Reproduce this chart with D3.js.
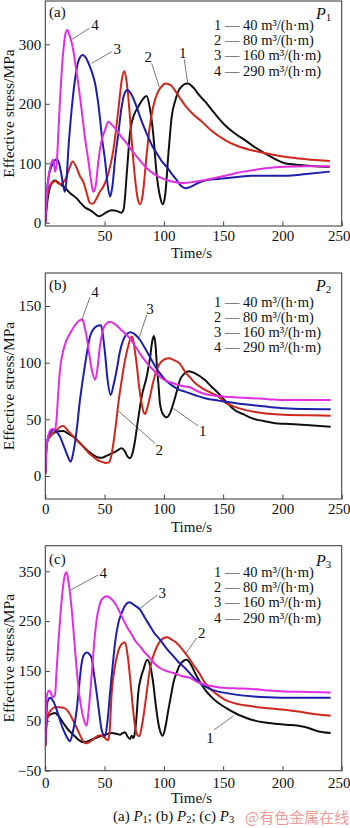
<!DOCTYPE html>
<html><head><meta charset="utf-8">
<script src="https://cdn.jsdelivr.net/npm/d3@7"></script>
<style>
html,body{margin:0;padding:0;background:#fff;}
svg{display:block;font-family:"Liberation Serif","Times New Roman",serif;}
</style></head>
<body>
<svg id="chart" width="350" height="828"></svg>
<script>
// ---------- DATA ----------
const seriesLabels = ["1 — 40 m³/(h·m)", "2 — 80 m³/(h·m)", "3 — 160 m³/(h·m)", "4 — 290 m³/(h·m)"];
const seriesColors = ["#111111", "#d0261c", "#1e1eac", "#e02ee0"];
const xTicks = [0, 50, 100, 150, 200, 250];

// Panel (a) P1  [time s, effective stress MPa]
const p1s1 = [[0,0],[2,40],[5,65],[8,71],[12,66],[16,60],[20.8,50],[26.5,41],[30,33],[34,25],[38,21],[42,15],[45,11],[48,13],[51,17],[56,21],[60,20],[64,17],[66,22],[69,90],[71.4,150],[75,182],[78.4,195],[82,207],[85.5,213],[88,195],[91,150],[94,80],[97,42],[99,31],[101,45],[104,120],[106.6,178],[110,208],[113.6,226],[120,234],[125,227],[130,214],[134.7,204],[142,186],[151.6,164],[160,150],[168.4,139],[176,128],[185,117],[194,107],[202,100],[215,97],[228,95],[240,94]];
const p1s2 = [[0,0],[1,35],[2.5,55],[5,66],[8.2,70],[12.4,65],[16.6,72],[20.8,94],[23,103],[26.5,92],[29.3,78],[32,69],[34.9,50],[37.7,33],[40,32],[43,40],[46,52],[49,61],[53.2,83],[57.4,122],[61.6,190],[64.5,240],[66.7,255],[68.5,238],[70.5,200],[73,135],[75.5,78],[78,40],[80,31],[82,45],[85.5,115],[88,160],[91,195],[95,220],[98,229],[101.5,234],[106,231],[110.8,218],[114.5,207],[118,197],[122,188],[126,180],[131,172],[140,155],[151.6,139],[162,129],[174,122],[188,116],[202,111],[220,107],[240,104]];
const p1s3 = [[0,0],[1.5,55],[3,80],[6,98],[9.6,107],[11.5,101],[13.5,82],[15.2,62],[16.6,52],[18,75],[19.4,122],[22.2,190],[25,240],[27.8,271],[31.5,282],[34,278],[37.7,262],[40,249],[42,234],[44,210],[46,178],[48,140],[50.4,105],[52.5,65],[54.6,44],[56.5,60],[59,110],[61.6,150],[64,190],[66.5,215],[69.2,223],[72,218],[77,195],[81,172],[85.5,150],[90,130],[94,117],[98,104],[102.4,94],[106,84],[110.8,72],[114,63],[118,58],[122,60],[128,66],[134.7,71],[142,73],[151.6,75],[162,77],[174,79],[188,79],[202,79],[220,82],[240,86]];
const p1s4 = [[0,0],[1.5,50],[3,80],[5,100],[6.8,106],[8.2,86],[9.5,97],[11,150],[12.4,206],[14,260],[15.5,295],[17,318],[18.6,324],[20.5,315],[23.6,290],[25.7,262],[27.8,234],[30,200],[32,167],[34,135],[36.3,105],[38.5,72],[40.5,52],[42.5,62],[44.3,95],[46,122],[48,142],[50.4,156],[53.2,170],[56,165],[60,156],[64,145],[68.5,134],[74,119],[79.8,105],[85,93],[91,83],[96,77],[102.4,72],[108,69],[113.6,67],[118,67],[126,69],[134.7,72],[142,75],[151.6,79],[162,84],[174,88],[188,92],[202,94],[220,95],[240,95]];

// Panel (b) P2
const p2s1 = [[0,2],[1.2,30],[4,35],[6.8,37.6],[11,39.5],[15.2,39.7],[19,37.5],[23.6,34.7],[28,30.5],[32,26],[36,22],[40.5,18.5],[44,16.5],[47.5,16],[52,18],[56,20],[60,22],[64.4,24.4],[67,22],[69.5,17],[71.4,15.6],[73.5,20],[75.5,30],[77,40.6],[79,55],[81.3,70],[85.5,87.6],[88.3,104],[90.2,119],[91.7,123.5],[93,115],[94,99.4],[95.5,80],[96.7,64],[99,55],[102.4,51.8],[105,55],[108,64],[111,75],[113.6,84.7],[117,90],[121,92.5],[126.3,90.6],[134.7,84.7],[140,79],[146,73],[153,65],[160,58],[167,54.5],[174,51],[184,48.5],[193.7,46.5],[202,46],[220,45],[240.7,43.5]];
const p2s2 = [[0,2],[1,25],[2.5,33],[6,37],[9.6,40.6],[12,43],[15.2,44],[19,40],[23.6,34.7],[28,30],[32,25.9],[36,21],[40.5,17],[44,14],[47.5,12.6],[51,11.5],[53.2,11.8],[55.5,17],[57.4,28.8],[59.5,45],[61.6,64],[64.5,85],[67.2,102],[70,115],[72.9,123],[74.5,118],[76,107],[77,99.4],[79,80],[81.3,64],[83,56],[84.1,54.7],[86,60],[88.3,70],[91,83],[94,93.5],[98,101],[103.8,103.8],[108,102.5],[113.6,99],[117.8,92],[122,87],[126.3,82],[134.7,76],[146,70],[151.6,65],[160,61],[174,57],[188,55],[202,54],[220,53.5],[240.7,53.2]];
const p2s3 = [[0,2],[1,25],[2.5,34.7],[5,39],[6.8,41],[9,39.5],[12.4,34.7],[15,28],[18,20],[21.4,12.6],[23.5,20],[26.5,40.6],[29,65],[32,87.6],[35,108],[37.7,123],[41,130],[44,132.5],[47,133],[48.5,125],[50.4,108],[52.5,85],[55.2,71.5],[57.5,80],[60.2,93.5],[63,110],[65.8,120],[69,125.5],[72,126.8],[76,124.5],[79.9,120],[84,113],[88.3,105],[92,98],[96.7,90.6],[102,84],[108,79],[113,76],[117.8,74.4],[126,71.5],[134.7,68.6],[146,66.5],[151.6,65.6],[162,64],[174,62.6],[188,61],[202,59.7],[220,59],[240.7,58.8]];
const p2s4 = [[0,2],[1,25],[2.5,35],[4,40],[6,41.5],[8.2,41],[9.5,50],[11,75],[12.4,93.5],[15,110],[18,120],[21,126],[25,133],[28.5,137],[31.5,138],[33,132],[34.9,123],[37,108],[39,95],[42,85],[44,95],[46,114],[48,126],[50.4,133],[54.6,136],[58,134.5],[63,130],[67,126],[71.4,121.5],[75.5,115],[79.9,108],[84,102],[88.3,96.5],[92.5,92],[96.7,87.6],[102,84],[108,81.8],[113,80],[117.8,79],[122,78.3],[128,75],[134.7,72.4],[142,71],[151.6,70],[162,69.3],[174,68.6],[188,67.8],[202,67],[220,67],[240.7,67]];

// Panel (c) P3
const p3s1 = [[0,0],[0.8,40],[1.2,55.6],[4,62],[8.2,65.6],[11,60],[15.2,45.5],[19,33],[23.6,22],[28,12],[32,7],[35,8],[39,12],[43,16],[47.5,20],[52,23],[56,25.5],[60,24],[63,22],[65,25],[67.2,27],[69,20],[71.4,13.5],[73,20],[74.2,15.5],[75.5,25],[77,60],[78.4,106],[80.5,135],[82.7,152.5],[86,172.6],[88.5,160],[91,126],[93,85],[95.3,45.5],[97,28],[99,20],[101.5,40],[103.8,72],[106,100],[108,126],[111,148],[113.6,162.5],[119.3,172.6],[123,162],[126.3,146],[130,130],[134.7,112.4],[140,98],[146,85.7],[153,75],[160,65.6],[167,58],[174,52],[184,47],[193.7,44],[203,42],[213.5,40],[220,37],[230,29],[240.7,25.5]];
const p3s2 = [[0,0],[1,40],[2.5,62],[5,72],[8.2,77],[12,77],[16.6,75],[20,66],[24,48],[28,28],[31,13],[33.5,5],[36,6],[39,10],[42,16],[46,21],[49.5,17],[53,11],[54.3,30],[56,106],[58.8,160],[61.6,190],[64,203],[67.2,207.5],[69.5,180],[71.4,139],[73.5,85],[75.7,39],[77.5,22],[79.3,19],[81.5,40],[85.5,106],[88,150],[91,179.6],[94,198],[96.7,209.5],[102.4,217.5],[106,214],[110.8,206],[115,195],[119.3,182],[125,162],[130,145],[134.7,126],[140,112],[146,101],[151.6,92],[160,85],[174,79],[188,75],[202,72],[215,68],[228,63],[240.7,60]];
const p3s3 = [[0,0],[1,60],[1.7,86],[4,96],[6.5,90],[9.6,72],[12.5,50],[15.2,32],[18,18],[20.8,9],[23,25],[26.5,72],[28.5,120],[30.7,166],[32.5,182],[34.9,187],[37,184],[39,176],[41,145],[43.3,106],[45.5,65],[47.5,32],[50.4,19],[52.5,50],[54.6,106],[56.8,160],[58.8,206],[61.5,245],[64.4,266],[67.5,282],[70.9,288],[75,282],[79.9,273],[84,257],[88.3,240],[92,226],[96.7,213],[102,196],[108,179.6],[113,166],[117.8,156],[122,145],[126.3,134],[134.7,119],[142,111],[151.6,106],[162,102],[174,99],[188,97],[202,96],[220,96],[240.7,96]];
const p3s4 = [[0,0],[0.6,50],[1.2,100],[3.4,111],[5,104],[6.2,97],[8.2,102],[9.5,150],[11,206],[13,270],[15,320],[16.5,342],[18,348],[19.5,330],[22.3,273],[24.5,210],[26.5,152.5],[28.5,105],[30.7,72],[32.8,50],[34.9,40],[36.5,70],[39,139],[41,200],[43.3,253],[45.5,280],[47.5,293],[51.8,300],[55,296],[58.8,286],[62,272],[65.8,253],[69,238],[72.9,223],[76,210],[79.9,199.5],[84,187],[88.3,176],[92,165],[96.7,156],[102,150],[108,146],[115,140],[122,136],[128,128],[134.7,122.5],[142,119],[151.6,116],[162,115],[174,114],[188,111],[202,109],[220,108],[240.7,107]];

// Curve call-outs: [label, lineStart t, v, lineEnd t, v, text t, v]
const p1Notes = [["4",22.3,308,37.1,327,41.9,332],["3",39.1,268,56,287.6,60.7,291.6],["2",96.2,227.7,89.7,268,86.9,279.2],["1",120.1,234.5,117.2,274.8,115.9,285.9]];
const p2Notes = [["4",30.7,137.6,37.7,157.7,41.9,162.6],["3",79.3,122.4,85.5,142,88.3,147.1],["2",60.7,58.2,92.5,28.9,96.2,22.9],["1",108,59.7,129,44.1,132.8,40]];
const p3Notes = [["4",21.4,312.5,44.7,342.6,48.9,346],["3",79.9,275.7,94.5,302.4,98.7,307],["2",117.8,182.6,127.7,216.1,131.9,225.6],["1",158.6,59.6,142.3,31.5,138.9,14.9]];

const p1YTicks = [0, 100, 200, 300];
const p2YTicks = [0, 50, 100, 150];
const p3YTicks = [-50, 50, 150, 250, 350];

// ---------- LAYOUT ----------
const panels = [
  {tag:"(a)", sub:"1", top:1, bottom:226, yDom:[-5.4,372.8], yTicks:p1YTicks, xZero:false, xPad:4.4, titleY:253.3, tagY:11.7, pY:12.5, legY:25,
   series:[p1s1,p1s2,p1s3,p1s4], notes:p1Notes},
  {tag:"(b)", sub:"2", top:273, bottom:499, yDom:[-20.3,179.1], yTicks:p2YTicks, xZero:true, xPad:4.2, titleY:527, tagY:285, pY:284.5, legY:301.7,
   series:[p2s1,p2s2,p2s3,p2s4], notes:p2Notes},
  {tag:"(c)", sub:"3", top:545.7, bottom:770.7, yDom:[-50.2,401.4], yTicks:p3YTicks, xZero:true, xPad:7, titleY:798.3, tagY:559.3, pY:559.5, legY:572,
   series:[p3s1,p3s2,p3s3,p3s4], notes:p3Notes}
];
const left = 45.3, right = 341.7;
const svg = d3.select("#chart");
const x = d3.scaleLinear().domain([0,250]).range([left,right]);
const fmt = d => (d < 0 ? "\u2212" + Math.abs(d) : String(d));

panels.forEach(p => {
  const y = d3.scaleLinear().domain(p.yDom).range([p.bottom, p.top]);
  const g = svg.append("g");
  const clipId = "clip" + p.sub;
  svg.append("clipPath").attr("id", clipId).append("rect")
    .attr("x", left).attr("y", p.top).attr("width", right-left).attr("height", p.bottom-p.top);

  // x axis
  const xa = g.append("g").attr("transform", `translate(0,${p.bottom})`)
    .call(d3.axisBottom(x).tickValues(p.xZero ? xTicks : xTicks.slice(1)).tickSizeInner(-4.5).tickSizeOuter(0).tickPadding(p.xPad).tickFormat(fmt));
  // keep the last x label inside the picture, as in the reference
  xa.selectAll(".tick text").filter(d => d === 250).attr("text-anchor", "end").attr("dx", 8.2);
  // y axis
  const ya = g.append("g").attr("transform", `translate(${left},0)`)
    .call(d3.axisLeft(y).tickValues(p.yTicks).tickSizeInner(-4.5).tickSizeOuter(0).tickPadding(4).tickFormat(fmt));
  [xa, ya].forEach(a => {
    a.select(".domain").remove();
    a.selectAll("line").attr("stroke", "#444").attr("stroke-width", 1);
    a.selectAll("text").attr("font-size", 15).attr("fill", "#111")
      .attr("font-family", '"Liberation Serif","Times New Roman",serif');
  });

  // curves
  const line = d3.line().x(d => x(d[0])).y(d => y(d[1])).curve(d3.curveMonotoneX);
  const cg = g.append("g").attr("clip-path", `url(#${clipId})`);
  p.series.forEach((s, i) => {
    cg.append("path").datum(s).attr("d", line).attr("fill", "none")
      .attr("stroke", seriesColors[i]).attr("stroke-width", 2).attr("stroke-linejoin", "round");
  });

  // frame
  g.append("rect").attr("x", left).attr("y", p.top).attr("width", right-left).attr("height", p.bottom-p.top)
    .attr("fill", "none").attr("stroke", "#444").attr("stroke-width", 1.1);

  // call-outs
  p.notes.forEach(n => {
    g.append("line").attr("x1", x(n[1])).attr("y1", y(n[2])).attr("x2", x(n[3])).attr("y2", y(n[4]))
      .attr("stroke", "#555").attr("stroke-width", 0.8);
    g.append("text").attr("x", x(n[5])).attr("y", y(n[6])).attr("text-anchor", "middle")
      .attr("dominant-baseline", "central").attr("font-size", 15).attr("fill", "#111").text(n[0]);
  });

  // tag + P label
  g.append("text").attr("x", 49).attr("y", p.tagY).attr("dominant-baseline", "central")
    .attr("font-size", 15).attr("fill", "#111").text(p.tag);
  const pt = g.append("text").attr("x", 316).attr("y", p.pY).attr("dominant-baseline", "central")
    .attr("font-size", 16).attr("fill", "#111");
  pt.append("tspan").attr("font-style", "italic").text("P");
  pt.append("tspan").attr("font-size", 11).attr("dy", 4).text(p.sub);

  // legend
  seriesLabels.forEach((t, i) => {
    g.append("text").attr("x", 214).attr("y", p.legY + i*15.2).attr("dominant-baseline", "central")
      .attr("font-size", 14.5).attr("fill", "#111").text(t);
  });

  // axis titles
  g.append("text").attr("x", (left+right)/2 - 2).attr("y", p.titleY).attr("text-anchor", "middle")
    .attr("dominant-baseline", "central").attr("font-size", 15).attr("fill", "#111").text("Time/s");
  g.append("text").attr("transform", `translate(8,${(p.top+p.bottom)/2}) rotate(-90)`)
    .attr("text-anchor", "middle").attr("dominant-baseline", "central")
    .attr("font-size", 15.5).attr("fill", "#111").text("Effective stress/MPa");
});

// caption
const cap = svg.append("text").attr("x", 113).attr("y", 815.7).attr("dominant-baseline", "central")
  .attr("font-size", 15).attr("fill", "#111");
[["(a) ", "1", "; "], ["(b) ", "2", "; "], ["(c) ", "3", ""]].forEach(c => {
  cap.append("tspan").text(c[0]);
  cap.append("tspan").attr("font-style", "italic").text("P");
  cap.append("tspan").attr("font-size", 10.5).attr("dy", 3.5).text(c[1]);
  cap.append("tspan").attr("dy", -3.5).text(c[2]);
});
// watermark
svg.append("text").attr("x", 245).attr("y", 816).attr("dominant-baseline", "central")
  .attr("font-size", 15).attr("fill", "#ee9a9a")
  .attr("font-family", '"Noto Sans CJK SC","Liberation Serif",serif').text("@有色金属在线");
</script>
</body></html>
